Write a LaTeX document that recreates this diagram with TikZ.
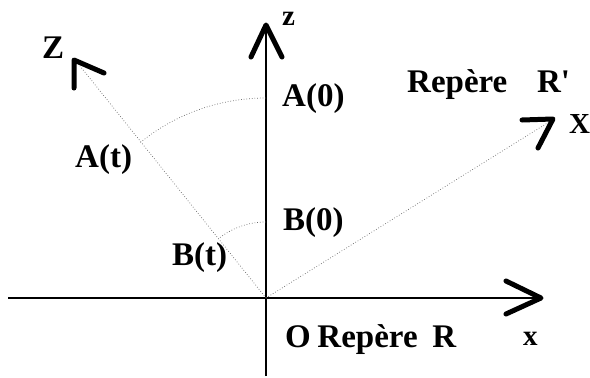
\documentclass[tikz,border=0pt]{standalone}
\usepackage{fontspec}
\setmainfont{Liberation Serif}
\begin{document}
\begin{tikzpicture}[x=1pt,y=-1pt,
  lbl/.style={font=\fontsize{33}{33}\selectfont\bfseries, inner sep=0pt, anchor=base west},
  small/.style={font=\fontsize{29}{29}\selectfont\bfseries, inner sep=0pt, anchor=base west},
  axisline/.style={line width=2.4pt},
  chev/.style={line width=5pt, line cap=round, line join=round},
  dotline/.style={dotted, line width=0.7pt, black!60}]
\useasboundingbox (0,0) rectangle (590,378);
% axes of R
\coordinate (O) at (266,298);
\coordinate (xl) at (8,298);
\coordinate (xt) at (541,298);
\coordinate (zb) at (266,376);
\coordinate (zt) at (266,25);
\draw[axisline] (xl) -- (xt);
\draw[axisline] (zb) -- (zt);
\draw[chev] (506,281) -- (xt) -- (506,314);
\draw[chev] (251,57) -- (zt) -- (282,57);
% axes of R'
\coordinate (Zt) at (80,66);
\coordinate (Xt) at (549,122);
\draw[dotline] (O) -- (Zt);
\draw[dotline] (O) -- (Xt);
\draw[chev] (74,88) -- (74,60) -- (104,73);
\draw[chev] (522,120) -- (553,119) -- (538,148);
% arcs
\draw[dotline] (266,98) arc[start angle=90, end angle=128.9, radius=200pt];
\draw[dotline] (266,222) arc[start angle=90, end angle=128.9, radius=76pt];
% labels
\node[small] (lz) at (282,25) {z};
\node[lbl] (lZ) at (42,58) {Z};
\node[lbl] (lA0) at (282,106) {A(0)};
\node[lbl] (lAt) at (75,167) {A(t)};
\node[lbl] (lB0) at (283,230) {B(0)};
\node[lbl] (lBt) at (172,265) {B(t)};
\node[lbl] (lRp) at (407,92) {Repère\hspace{0.9em}R\textquotesingle};
\node[small] (lX) at (569,133) {X};
\node[lbl] (lR) at (285,347) {O\hspace{0.2em}Repère\hspace{0.45em}R};
\node[small] (lx) at (523,345) {x};
\end{tikzpicture}
\end{document}
